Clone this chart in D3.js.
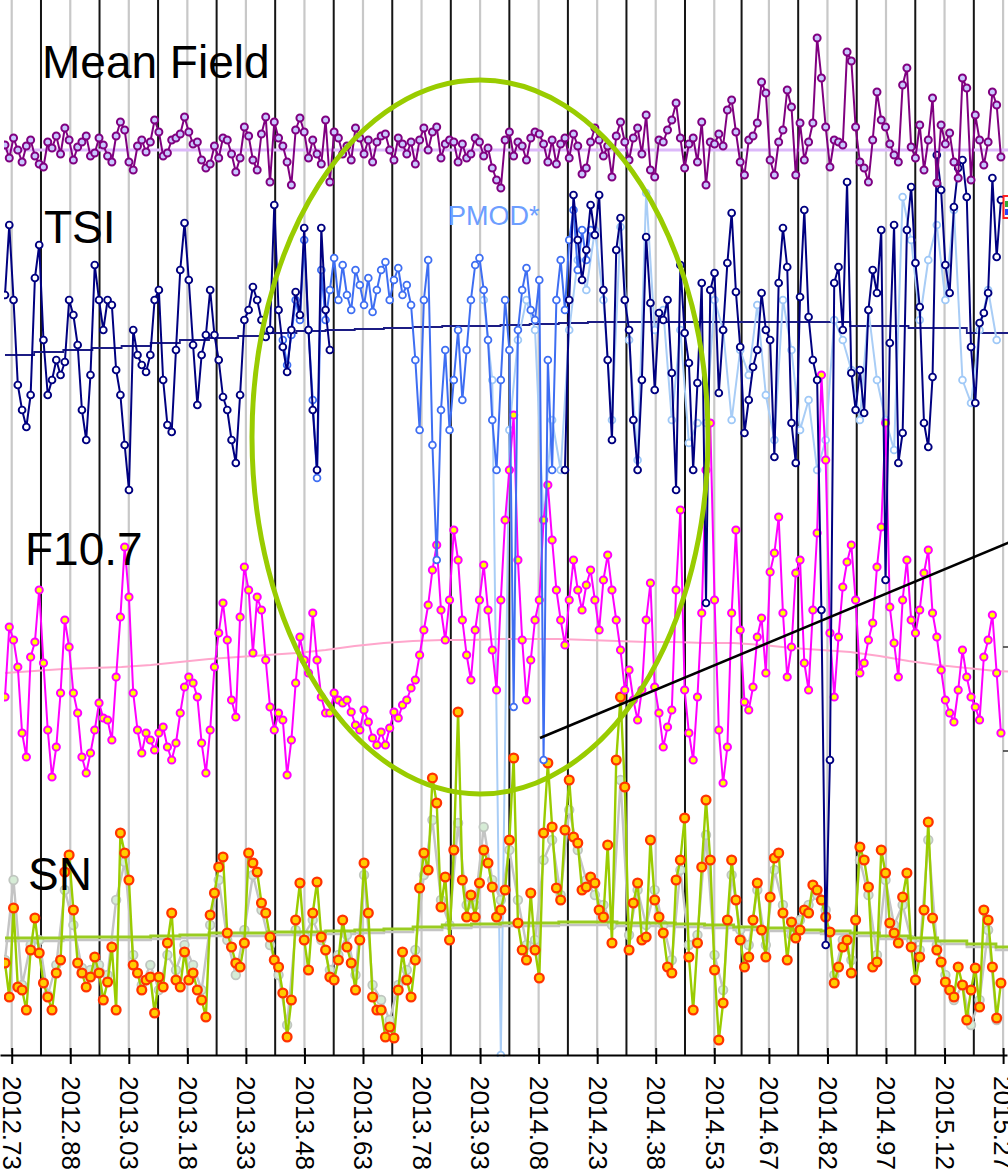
<!DOCTYPE html>
<html>
<head>
<meta charset="utf-8">
<script src="https://cdn.jsdelivr.net/npm/d3@7"></script>
<style>
  body { margin: 0; background: #fff; }
  svg { display: block; font-family: "Liberation Sans", Arial, sans-serif; }
</style>
</head>
<body>
<div id="chart"></div>
<script>
// Daily series are kept at a 4-day sampling, first sample at 2012.7128
const firstYear = 2012.7128;
const sampleDays = 4;
const rotationDays = 27.2753;

const tickLabels = ["2012.73", "2012.88", "2013.03", "2013.18", "2013.33", "2013.48", "2013.63", "2013.78", "2013.93",
  "2014.08", "2014.23", "2014.38", "2014.53", "2014.67", "2014.82", "2014.97", "2015.12", "2015.27"];

// solar mean field (uT)
const meanField = [
  5, -8, 12, 0, -12, 4, 10, -6, -14, -17, 8, 2, 14, -4, 22, 10, -10, 3, 8, 14, -6,
  -3, 12, 5, -6, -12, 14, 28, 20, -12, -20, 4, 10, -2, 8, 30, 18, -6, -3, 10, 12, 16,
  33, 18, 6, 8, -10, -18, -14, 4, -8, 12, 10, -4, -22, -8, 23, 14, -10, -20, 16, 33, -32,
  28, 12, 4, -12, -35, 20, 32, 18, -8, 10, -4, -14, 30, -32, 18, 12, -4, 4, -10, 22, 12,
  -4, 10, -12, 8, 14, 16, 0, -10, 12, 6, -4, 8, -14, 10, 22, 0, 18, 23, -8, 6, 10,
  8, -12, 6, -8, -4, 12, 8, -6, 2, -18, -30, -38, 10, 18, -6, 8, 4, -10, 12, 18, 16,
  6, -12, 10, -14, 6, 12, -8, 16, 4, -24, -18, 8, 22, 10, -6, 4, -27, 14, 28, 8, -10,
  12, 22, -4, 35, -20, -27, 10, 8, 20, 30, 47, 12, -18, 6, 12, -12, 28, -35, 8, 6, 16,
  4, 40, 50, 18, -12, -25, 10, 14, 27, 68, 57, -10, -25, 8, 20, 60, 43, -25, 27, -10, 8,
  27, 112, 72, 23, -17, 10, 8, 5, 98, 89, 23, -12, -18, -32, 10, 58, 30, 23, 6, -5, -12,
  65, 82, 3, -8, 25, -20, 10, 52, -33, 25, 6, 17, -12, -28, 72, 62, -30, 35, 10, -15, 8,
  58, 45, -7
];

// TSI (W/m2), dark series: samples 0-76 and 131-233
const tsiEarly = [
  1361.45, 1362.15, 1361.40, 1360.55, 1360.30, 1360.13, 1360.45, 1361.62, 1361.95, 1361.00,
  1360.45, 1360.60, 1360.80, 1360.65, 1360.78, 1361.40, 1361.25, 1360.95, 1360.30, 1360.00,
  1360.65, 1361.75, 1361.40, 1361.10, 1361.40, 1361.35, 1360.70, 1360.45, 1359.95, 1359.50,
  1361.10, 1360.85, 1360.75, 1360.68, 1360.85, 1361.40, 1361.50, 1360.60, 1360.15, 1360.08,
  1360.90, 1361.70, 1362.17, 1361.60, 1360.95, 1360.35, 1360.85, 1361.05, 1361.50, 1361.05,
  1360.80, 1360.43, 1360.30, 1360.00, 1359.77, 1360.45, 1361.20, 1361.30, 1361.53, 1361.40,
  1361.20, 1361.03, 1361.10, 1362.35, 1361.30, 1360.93, 1360.68, 1361.10, 1361.48, 1361.25,
  1362.12, 1361.10, 1360.30, 1359.70, 1362.12, 1361.30, 1360.90
];
const tsiLate = [
  1359.70, 1361.40, 1362.45, 1362.00, 1361.60, 1361.90, 1362.35, 1362.05, 1362.45, 1361.50,
  1360.80, 1360.00, 1361.90, 1362.22, 1361.40, 1361.10, 1360.20, 1359.70, 1360.60, 1362.03,
  1361.37, 1360.50, 1361.27, 1361.20, 1361.40, 1360.67, 1359.50, 1361.75, 1361.07, 1360.77,
  1359.70, 1360.57, 1361.57, 1358.37, 1361.50, 1361.67, 1360.47, 1361.10, 1361.77, 1362.27,
  1361.48, 1360.93, 1360.07, 1360.40, 1360.73, 1360.90, 1361.47, 1361.10, 1361.00, 1359.83,
  1361.57, 1362.12, 1361.73, 1360.17, 1359.77, 1361.43, 1362.30, 1361.23, 1360.80, 1360.60,
  1358.30, 1354.95, 1356.80, 1361.57, 1361.73, 1361.10, 1362.58, 1360.67, 1360.30, 1360.70,
  1360.27, 1361.30, 1361.70, 1361.47, 1362.10, 1358.60, 1360.97, 1362.15, 1359.77, 1360.07,
  1362.10, 1362.53, 1361.77, 1361.33, 1360.17, 1359.93, 1360.63, 1362.85, 1362.50, 1361.75,
  1361.47, 1362.33, 1362.72, 1362.80, 1362.43, 1360.93, 1360.37, 1361.17, 1361.27, 1361.47,
  1362.62, 1361.83, 1362.40
];
// PMOD* composite, samples 65-137
const tsiPmod = [
  1361.00, 1360.75, 1361.05, 1361.40, 1361.20, 1362.00, 1361.10, 1360.40, 1359.62, 1361.70,
  1361.20, 1361.50, 1361.82, 1361.40, 1361.75, 1361.45, 1361.30, 1361.70, 1361.55, 1361.35,
  1361.62, 1361.28, 1361.50, 1361.70, 1361.78, 1361.40, 1361.60, 1361.72, 1361.45, 1361.55,
  1361.35, 1360.80, 1360.10, 1361.40, 1361.80, 1359.95, 1358.80, 1360.30, 1360.90, 1360.10,
  1360.60, 1361.10, 1360.40, 1360.90, 1361.40, 1361.75, 1361.82, 1361.50, 1361.00, 1360.20,
  1359.70, 1360.60, 1361.40, 1360.90, 1357.33, 1361.10, 1361.50, 1361.72, 1361.30, 1361.20,
  1361.60, 1356.80, 1360.80, 1359.70, 1361.40, 1361.80, 1361.30, 1362.00, 1362.30, 1361.70,
  1362.10, 1361.80, 1362.10
];
// light TSI series, every 8 days from sample 112
const tsiPale = [
  1361.40, 1360.60, 1353.85, 1360.10, 1361.00, 1361.40, 1361.10, 1359.20, 1360.20, 1359.70,
  1361.10, 1361.80, 1361.50, 1362.10, 1361.40, 1360.20, 1362.13, 1361.00, 1359.80, 1362.47,
  1361.10, 1361.30, 1360.20, 1361.10, 1359.97, 1360.17, 1360.17, 1361.40, 1361.10, 1360.20,
  1360.90, 1360.65, 1361.35, 1360.45, 1360.00, 1361.40, 1360.90, 1360.10, 1360.40, 1359.70,
  1360.00, 1361.20, 1361.00, 1360.70, 1360.20, 1361.30, 1360.60, 1360.20, 1359.90, 1362.43,
  1362.00, 1361.20, 1361.80, 1362.15, 1361.40, 1362.30, 1360.60, 1360.37, 1361.10, 1361.50,
  1361.00
];

// F10.7 radio flux (sfu)
const f107 = [
  129.2, 157.2, 152.0, 141.2, 114.8, 105.2, 145.2, 151.2, 172.0, 142.8,
  116.0, 97.2, 109.2, 130.8, 160.0, 149.2, 130.8, 122.8, 105.2, 98.8,
  106.8, 116.0, 126.8, 120.8, 120.0, 112.0, 137.2, 161.2, 189.2, 169.2,
  130.8, 116.0, 106.8, 114.8, 112.0, 108.0, 114.8, 117.2, 109.2, 104.0,
  110.8, 122.8, 133.2, 137.2, 134.8, 129.2, 110.8, 98.8, 116.0, 141.2,
  154.8, 166.8, 152.0, 128.0, 121.2, 161.2, 181.2, 172.0, 146.8, 169.2,
  164.0, 144.0, 125.2, 116.0, 122.8, 120.0, 98.0, 112.0, 134.8, 153.2,
  144.0, 138.8, 162.8, 144.0, 129.2, 122.8, 122.8, 130.8, 128.0, 126.8,
  128.0, 123.2, 118.0, 116.0, 124.0, 119.2, 112.8, 110.0, 115.2, 110.0,
  116.8, 123.2, 120.8, 126.0, 128.0, 132.8, 136.0, 146.0, 156.0, 166.0,
  180.0, 190.0, 164.0, 152.0, 168.0, 196.0, 184.0, 160.0, 146.0, 136.0,
  156.0, 168.0, 182.0, 164.0, 148.0, 132.0, 168.0, 200.0, 220.0, 242.0,
  184.0, 152.0, 128.0, 144.0, 160.0, 168.0, 200.0, 214.0, 192.0, 172.0,
  160.0, 150.0, 168.0, 184.0, 172.0, 164.0, 174.0, 180.0, 168.0, 156.0,
  176.0, 186.0, 172.0, 160.0, 148.0, 132.0, 140.0, 128.0, 120.0, 132.0,
  160.0, 174.8, 133.2, 122.8, 109.2, 117.2, 124.0, 172.0, 204.0, 132.0,
  114.8, 104.0, 129.2, 162.8, 220.0, 238.8, 168.0, 116.0, 94.8, 109.2,
  162.8, 196.0, 156.0, 127.2, 124.0, 133.2, 153.2, 160.8, 138.8, 179.2,
  186.8, 201.2, 162.8, 137.2, 149.2, 178.8, 184.0, 142.8, 132.0, 164.0,
  194.8, 258.0, 224.0, 154.8, 129.2, 153.2, 173.2, 183.2, 190.0, 168.0,
  138.8, 142.8, 152.0, 158.8, 181.2, 197.2, 238.8, 165.2, 150.8, 137.2,
  168.0, 184.0, 160.0, 154.8, 164.0, 178.8, 188.0, 162.8, 153.2, 140.0,
  128.0, 122.8, 119.2, 132.0, 148.0, 137.2, 129.2, 125.2, 120.0, 145.2,
  152.0, 162.0, 138.8, 114.8
];

// sunspot number, main series
const snMain = [
  107, 73, 162, 83, 80, 60, 120, 152, 117, 87,
  73, 60, 97, 110, 198, 215, 160, 107, 97, 83,
  93, 113, 97, 70, 88, 123, 60, 237, 217, 190,
  105, 97, 80, 90, 93, 57, 93, 83, 127, 157,
  90, 83, 118, 90, 97, 80, 70, 53, 155, 177,
  203, 213, 137, 123, 107, 103, 127, 217, 207, 198,
  167, 157, 133, 110, 103, 77, 33, 70, 150, 187,
  130, 100, 157, 188, 133, 120, 93, 90, 110, 150,
  123, 107, 80, 130, 207, 157, 73, 60, 60, 33,
  43, 32, 80, 118, 90, 73, 110, 182, 217, 200,
  292, 267, 163, 193, 130, 220, 358, 190, 153, 175,
  153, 187, 220, 207, 183, 153, 160, 180, 230, 312,
  147, 120, 110, 177, 120, 92, 237, 307, 243, 182,
  170, 240, 290, 233, 227, 180, 183, 193, 187, 160,
  153, 225, 127, 310, 373, 283, 120, 167, 187, 130,
  133, 230, 170, 153, 137, 103, 97, 190, 210, 252,
  113, 60, 127, 203, 270, 210, 100, 30, 67, 150,
  210, 170, 130, 103, 113, 150, 187, 140, 113, 173,
  212, 217, 157, 110, 148, 132, 140, 160, 157, 185,
  180, 170, 153, 138, 87, 103, 123, 130, 97, 150,
  223, 210, 183, 103, 108, 220, 197, 147, 137, 127,
  173, 197, 123, 90, 113, 160, 248, 152, 120, 108,
  88, 80, 73, 103, 85, 50, 80, 102, 63, 160,
  150, 103, 52, 87
];
// sunspot number, second (light) series, every 8 days
const snAlt = [
  110, 190, 85, 125, 130, 75, 105, 180, 145, 102,
  100, 105, 95, 170, 208, 115, 85, 105, 80, 115,
  100, 125, 105, 80, 145, 190, 130, 95, 140, 195,
  160, 125, 95, 45, 140, 135, 150, 130, 100, 115,
  135, 95, 195, 85, 70, 50, 85, 100, 120, 195,
  250, 170, 145, 247, 165, 165, 243, 190, 170, 220,
  170, 125, 130, 210, 230, 175, 260, 220, 190, 175,
  165, 145, 290, 135, 180, 145, 180, 145, 110, 200,
  125, 135, 235, 115, 80, 195, 140, 125, 180, 125,
  200, 165, 135, 150, 165, 175, 160, 95, 130, 110,
  210, 175, 115, 190, 145, 165, 130, 120, 230, 125,
  95, 70, 85, 45, 70, 140, 50
];

// running means, one value per solar rotation
const tsiTrend = [
  1360.85, 1360.88, 1360.90, 1360.92, 1360.94, 1360.97, 1361.00, 1361.02, 1361.04, 1361.07,
  1361.09, 1361.10, 1361.11, 1361.12, 1361.13, 1361.14, 1361.14, 1361.15, 1361.16, 1361.17,
  1361.18, 1361.18, 1361.18, 1361.18, 1361.18, 1361.18, 1361.18, 1361.18, 1361.18, 1361.14,
  1361.14, 1361.12, 1361.12, 1361.07, 1361.07, 1361.07
];
const f107Trend = [
  138.8, 139.6, 140.4, 140.8, 141.2, 142.0, 143.2, 144.4, 145.2, 146.0,
  146.8, 148.0, 149.6, 150.8, 151.6, 152.0, 152.0, 152.4, 152.4, 152.4,
  152.0, 151.6, 151.2, 151.2, 150.8, 150.8, 150.0, 148.8, 148.0, 147.2,
  145.6, 143.6, 142.0, 140.8, 139.6, 139.2
];
const snTrend = [
  132, 132, 133, 133, 133, 134, 135, 137, 137, 138, 138, 139, 140, 141, 143, 145, 146, 147,
  147, 148, 148, 147, 147, 146, 145, 143, 142, 140, 139, 137, 134, 132, 129, 126, 123, 122
];
const snAltTrend = [
  129, 129, 130, 130, 130, 131, 132, 134, 134, 135, 135, 136, 137, 138, 140, 142, 143, 144,
  144, 145, 145, 144, 144, 143, 142, 140, 139, 137, 136, 134, 131, 129, 126, 123, 120, 119
];
const rightTicks = [149.2, 107.6];

const W = 1008, H = 1173;
const axisY = 1055;

const svg = d3.select("#chart").append("svg")
    .attr("width", W)
    .attr("height", H);
svg.append("rect").attr("width", W).attr("height", H).attr("fill", "#fff");

const x = d3.scaleLinear().domain([2012.70, 2015.28]).range([0, 1007]);
const yMean = d3.scaleLinear().domain([-150, 150]).range([300, 0]);
const yTsi = d3.scaleLinear().domain([1353, 1365]).range([1140, -60]);
const yF = d3.scaleLinear().domain([88, 258]).range([800, 375]);
const ySn = d3.scaleLinear().domain([0, 300]).range([1070, 770]);

const tickYears = tickLabels.map(Number);
const rotationYears = d3.pairs(tickYears).map(([a, b]) => (a + b) / 2);

// grid: light lines at labels, dark lines at each solar rotation
svg.append("g").selectAll("line").data(tickYears).join("line")
    .attr("x1", d => x(d)).attr("x2", d => x(d))
    .attr("y1", 0).attr("y2", axisY - 2)
    .attr("stroke", "#c8c8c8").attr("stroke-width", 2.2);
svg.append("g").selectAll("line").data(rotationYears).join("line")
    .attr("x1", d => x(d)).attr("x2", d => x(d))
    .attr("y1", 0).attr("y2", axisY)
    .attr("stroke", "#151515").attr("stroke-width", 2);

svg.append("defs").append("clipPath").attr("id", "plotclip")
    .append("rect").attr("x", 4).attr("y", 0).attr("width", W - 4).attr("height", axisY + 2);
const plot = svg.append("g").attr("clip-path", "url(#plotclip)");

function sampleYear(n) {
    return firstYear + n * sampleDays / 365.25;
}
function series(values, start, every) {
    return values.map((v, k) => ({ year: sampleYear(start + k * every), v: v }));
}
function rotations(values) {
    return values.map((v, k) => ({ year: firstYear + k * rotationDays / 365.25, v: v }));
}

function drawTrend(data, y, color, width, curve) {
    plot.append("path")
        .datum(data)
        .attr("fill", "none")
        .attr("stroke", color)
        .attr("stroke-width", width)
        .attr("d", d3.line().curve(curve).x(d => x(d.year)).y(d => y(d.v)));
}

function drawSeries(data, y, o) {
    const g = plot.append("g");
    g.append("path")
        .datum(data)
        .attr("fill", "none")
        .attr("stroke", o.line)
        .attr("stroke-width", o.lw)
        .attr("stroke-linejoin", "round")
        .attr("d", d3.line().x(d => x(d.year)).y(d => y(d.v)));
    g.selectAll("circle").data(data).join("circle")
        .attr("cx", d => x(d.year))
        .attr("cy", d => y(d.v))
        .attr("r", o.r)
        .attr("fill", o.fill)
        .attr("stroke", o.stroke)
        .attr("stroke-width", o.sw);
}

// trend / baseline lines
plot.append("line")
    .attr("x1", x(firstYear)).attr("x2", W)
    .attr("y1", yMean(0)).attr("y2", yMean(0))
    .attr("stroke", "#dcb8fa").attr("stroke-width", 3);
drawTrend(rotations(tsiTrend), yTsi, "#1c1c84", 1.8, d3.curveStepAfter);
drawTrend(rotations(f107Trend), yF, "#ffa6cc", 2, d3.curveLinear);

// series
drawSeries(series(tsiPale, 112, 2), yTsi, { line: "#a9cdf6", lw: 2, r: 3.4, fill: "#fff", stroke: "#9ec8f7", sw: 1.8 });
drawTrend(rotations(snAltTrend), ySn, "#c4c4c4", 2.5, d3.curveStepAfter);
drawSeries(series(snAlt, 0, 2), ySn, { line: "#c4c4c4", lw: 2.4, r: 4.3, fill: "#d6ecd6", stroke: "#c0c6c0", sw: 1.8 });
drawTrend(rotations(snTrend), ySn, "#99cc22", 2.8, d3.curveStepAfter);
drawSeries(series(snMain, 0, 1), ySn, { line: "#9acc00", lw: 2.4, r: 4.4, fill: "#ffcc00", stroke: "#ff3300", sw: 2.3 });
drawSeries(series(f107, 0, 1), yF, { line: "#ff00ff", lw: 2, r: 3.6, fill: "#ffff00", stroke: "#ff00ff", sw: 2 });
drawSeries(series(tsiPmod, 65, 1), yTsi, { line: "#3e6ef2", lw: 2, r: 3.4, fill: "#fff", stroke: "#3e6ef2", sw: 1.8 });
drawSeries(series(tsiEarly, 0, 1), yTsi, { line: "#000080", lw: 2, r: 3.4, fill: "#fff", stroke: "#000080", sw: 1.9 });
drawSeries(series(tsiLate, 131, 1), yTsi, { line: "#000080", lw: 2, r: 3.4, fill: "#fff", stroke: "#000080", sw: 1.9 });
drawSeries(series(meanField, 0, 1), yMean, { line: "#800080", lw: 2, r: 3.5, fill: "#c8c8ff", stroke: "#800080", sw: 2 });

// annotations
svg.append("ellipse")
    .attr("cx", 480).attr("cy", 437).attr("rx", 228).attr("ry", 357)
    .attr("fill", "none").attr("stroke", "#99cc00").attr("stroke-width", 5);
svg.append("line")
    .attr("x1", 540).attr("y1", 738).attr("x2", 1010).attr("y2", 542)
    .attr("stroke", "#000").attr("stroke-width", 2.6);

// bits of the right-hand axis and legend that show at the edge
svg.append("g").selectAll("line").data(rightTicks).join("line")
    .attr("x1", 1003).attr("x2", W)
    .attr("y1", d => yF(d)).attr("y2", d => yF(d))
    .attr("stroke", "#333").attr("stroke-width", 1.5);
svg.append("rect").attr("x", 1003.5).attr("y", 196).attr("width", 8).attr("height", 22)
    .attr("fill", "#fff").attr("stroke", "#ff2020").attr("stroke-width", 2);
svg.append("rect").attr("x", 1005).attr("y", 201).attr("width", 4).attr("height", 6).attr("fill", "#33aa33");
svg.append("rect").attr("x", 1005).attr("y", 209).attr("width", 4).attr("height", 6).attr("fill", "#2244ff");

// x axis
const axis = svg.append("g")
    .attr("transform", `translate(0,${axisY})`)
    .call(d3.axisBottom(x)
        .tickValues(tickYears)
        .tickFormat((d, i) => tickLabels[i])
        .tickSize(9)
        .tickSizeOuter(0));
axis.select(".domain").attr("stroke", "#000").attr("stroke-width", 2);
axis.selectAll(".tick line").attr("y1", -7).attr("stroke", "#000").attr("stroke-width", 2);
axis.selectAll(".tick text")
    .attr("y", 0).attr("x", 0).attr("dy", "0.35em")
    .attr("transform", "translate(0,21) rotate(90)")
    .attr("text-anchor", "start")
    .attr("fill", "#000")
    .style("font-size", "26px")
    .style("font-family", "'Liberation Sans', Arial, sans-serif");

// panel titles
const titles = [
    { text: "Mean Field", x: 42, y: 78 },
    { text: "TSI", x: 44, y: 243 },
    { text: "F10.7", x: 25, y: 565 },
    { text: "SN", x: 28, y: 890 }
];
svg.append("g").selectAll("text").data(titles).join("text")
    .attr("x", d => d.x).attr("y", d => d.y)
    .attr("font-size", 46)
    .attr("fill", "#000")
    .text(d => d.text);

svg.append("text")
    .attr("x", 448).attr("y", 225)
    .attr("font-size", 27)
    .attr("fill", "#6d9eff")
    .text("PMOD*");
</script>
</body>
</html>
